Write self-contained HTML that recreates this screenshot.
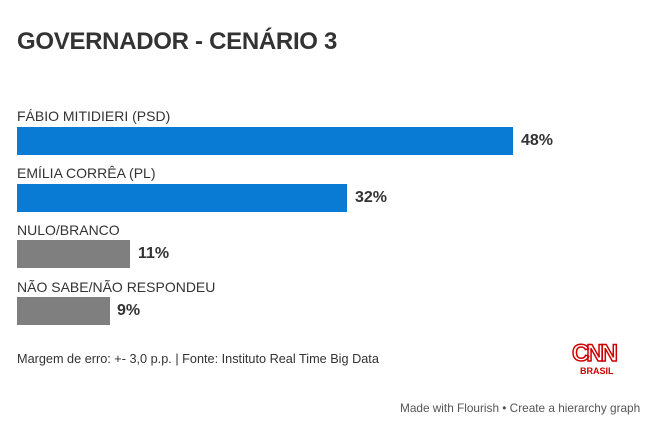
<!DOCTYPE html><html><head><style>
body{margin:0;width:665px;height:435px;background:#fff;font-family:"Liberation Sans",sans-serif;position:relative;overflow:hidden;color:#333}
.a{position:absolute;white-space:nowrap}
.t{left:17px;top:28px;font-size:24px;font-weight:bold;color:#333;letter-spacing:-0.3px}
.l{left:17px;font-size:14px;color:#333}
.b{left:17px;height:28px}
.v{font-size:16px;font-weight:bold;color:#333}
</style></head><body>
<div class="a t">GOVERNADOR - CENÁRIO 3</div>
<div class="a l" style="top:108px">FÁBIO MITIDIERI (PSD)</div>
<div class="a b" style="top:127px;width:496px;background:#0a7bd5"></div>
<div class="a v" style="left:521px;top:132px">48%</div>
<div class="a l" style="top:165px">EMÍLIA CORRÊA (PL)</div>
<div class="a b" style="top:184px;width:330px;background:#0a7bd5"></div>
<div class="a v" style="left:355px;top:189px">32%</div>
<div class="a l" style="top:222px">NULO/BRANCO</div>
<div class="a b" style="top:240px;width:113px;background:#7f7f7f"></div>
<div class="a v" style="left:138px;top:245px">11%</div>
<div class="a l" style="top:279px">NÃO SABE/NÃO RESPONDEU</div>
<div class="a b" style="top:297px;width:93px;background:#7f7f7f"></div>
<div class="a v" style="left:117px;top:302px">9%</div>
<div class="a" style="left:17px;top:352px;font-size:12.7px;color:#333">Margem de erro: +- 3,0 p.p. | Fonte: Instituto Real Time Big Data</div>
<div class="a" style="left:572px;top:340px;font-size:24px;font-weight:bold;color:#fff;-webkit-text-stroke:1.5px #cc0000;letter-spacing:-3px">CNN</div>
<div class="a" style="left:580px;top:366px;font-size:9px;font-weight:bold;color:#cc0000">BRASIL</div>
<div class="a" style="left:400px;top:401px;font-size:11.8px;color:#555">Made with Flourish • Create a hierarchy graph</div>
</body></html>
